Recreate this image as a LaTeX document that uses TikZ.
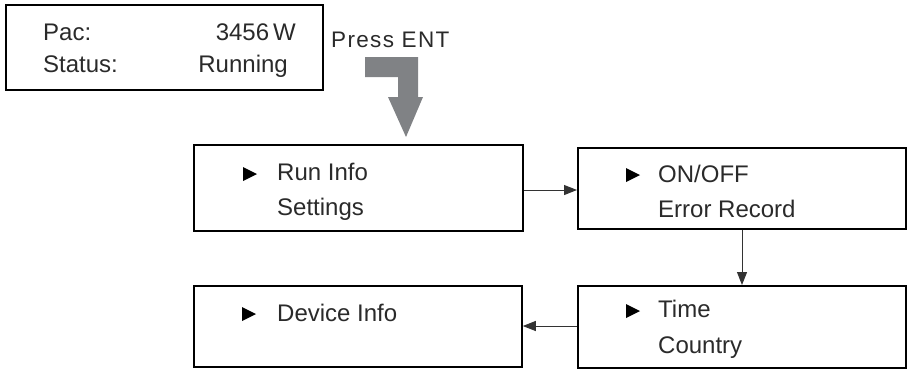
\documentclass[tikz,border=0pt]{standalone}
\usepackage{fontspec}
\setmainfont{Liberation Sans}
\usetikzlibrary{arrows.meta}
\definecolor{bigarrow}{HTML}{808285}
\definecolor{txt}{HTML}{2A2A2A}
\definecolor{conn}{HTML}{333333}
\tikzset{
  panel/.style={draw=black, line width=1.8pt, rectangle, inner sep=0pt, anchor=north west},
  lbl/.style={inner sep=0pt, anchor=base west, text=txt, font=\fontsize{24}{28}\selectfont},
  lblr/.style={lbl, anchor=base east},
  pointer/.style={fill=black, draw=none},
  conn/.style={draw=conn, line width=1pt, -{Triangle[length=13pt,width=10pt]}},
}
\begin{document}
\begin{tikzpicture}[x=1pt,y=-1pt]
\useasboundingbox (0,0) rectangle (907,368);
% boxes
\node[panel, minimum width=317pt, minimum height=85pt] (status) at (5,4) {};
\node[panel, minimum width=329pt, minimum height=86pt] (runinfo) at (193,144) {};
\node[panel, minimum width=328pt, minimum height=81pt] (onoff) at (577,147) {};
\node[panel, minimum width=328pt, minimum height=82pt] (time) at (577,285) {};
\node[panel, minimum width=328pt, minimum height=81pt] (device) at (193,285) {};
% status texts
\node[lbl] (pac) at (43,40) {Pac:};
\node[lblr] (pacv) at (296,40) {3456\,W};
\node[lbl] (st) at (43,72) {Status:};
\node[lblr] (stv) at (288,72) {Running};
\node[lbl, font={\fontsize{22.5}{26}\selectfont\addfontfeatures{LetterSpace=6}}] (press) at (331,47) {Press ENT};
% big gray arrow
\fill[bigarrow] (365,57) -- (418,57) -- (418,97) -- (423,97) -- (406,137) -- (388,97) -- (398,97) -- (398,77) -- (365,77) -- cycle;
% menu texts
\node[lbl] (t1) at (277,180) {Run Info};
\node[lbl] (t2) at (277,215) {Settings};
\node[lbl] (t3) at (658,182) {ON/OFF};
\node[lbl] (t4) at (658,217) {Error Record};
\node[lbl] (t5) at (658,317) {Time};
\node[lbl] (t6) at (658,353) {Country};
\node[lbl] (t7) at (277,321) {Device Info};
% pointers
\fill[pointer] (243,167) -- (257,174) -- (243,181) -- cycle;
\fill[pointer] (626,168) -- (640,175) -- (626,182) -- cycle;
\fill[pointer] (626,304) -- (640,311) -- (626,318) -- cycle;
\fill[pointer] (242,307) -- (256,314) -- (242,321) -- cycle;
% connectors
\draw[conn] (runinfo.east |- 0,190) -- (onoff.west |- 0,190);
\draw[conn] (onoff.south -| 742,0) -- (time.north -| 742,0);
\draw[conn] (time.west |- 0,326) -- (device.east |- 0,326);
\end{tikzpicture}
\end{document}
